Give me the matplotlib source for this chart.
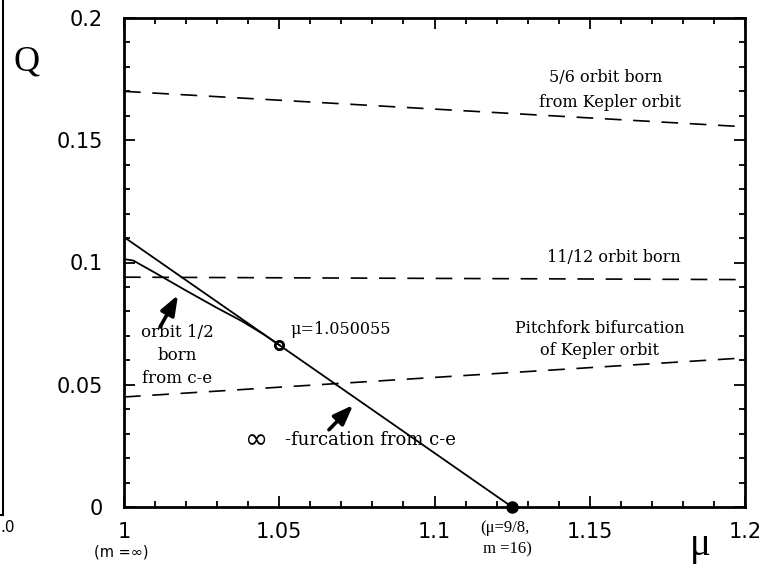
import matplotlib
matplotlib.use("Agg")
from matplotlib import pyplot as plt
from matplotlib.lines import Line2D
from matplotlib.ticker import MultipleLocator

# dashed curves: orbits born from the Kepler orbit
mu_ends = [1.0, 1.2]
q_56 = [0.170, 0.1555]
q_1112 = [0.094, 0.093]
q_pitch = [0.045, 0.061]

# solid curves from c-e
mu_inf = [1.0, 1.050055, 1.125]
q_inf = [0.1104, 0.0662, 0.0]
mu_half = [1.0, 1.003, 1.01, 1.02, 1.03, 1.038, 1.045, 1.050055]
q_half = [0.1014, 0.1008, 0.0958, 0.0885, 0.0814, 0.0760, 0.0706, 0.0662]

# special points
mu_pts = [1.050055, 1.125]
q_pts = [0.0662, 0.0]

xticks = [1.0, 1.05, 1.1, 1.15, 1.2]
xtick_labels = ["1", "1.05", "1.1", "1.15", "1.2"]
yticks = [0.0, 0.05, 0.1, 0.15, 0.2]
ytick_labels = ["0", "0.05", "0.1", "0.15", "0.2"]

W, H = 772, 567
fig = plt.figure(figsize=(W / 100, H / 100), dpi=100)
ax = fig.add_axes([124 / W, 1 - 507 / H, 621 / W, 489 / H])

serif = "DejaVu Serif"

dash = dict(color="k", lw=1.2, dashes=(10, 7))
ax.plot(mu_ends, q_56, **dash)
ax.plot(mu_ends, q_1112, **dash)
ax.plot(mu_ends, q_pitch, **dash)

ax.plot(mu_inf, q_inf, color="k", lw=1.3)
ax.plot(mu_half, q_half, color="k", lw=1.3)

ax.plot(mu_pts[0], q_pts[0], "o", ms=6, mfc="none", mec="k", mew=2, clip_on=False, zorder=5)
ax.plot(mu_pts[1], q_pts[1], "o", ms=8, color="k", clip_on=False, zorder=5)

ax.set_xlim(1.0, 1.2)
ax.set_ylim(0.0, 0.2)
ax.set_xticks(xticks)
ax.set_xticklabels(xtick_labels)
ax.set_yticks(yticks)
ax.set_yticklabels(ytick_labels)
ax.xaxis.set_minor_locator(MultipleLocator(0.01))
ax.yaxis.set_minor_locator(MultipleLocator(0.01))
ax.tick_params(which="both", direction="in", top=True, right=True, width=1.3, colors="k")
ax.tick_params(which="major", length=8)
ax.tick_params(which="minor", length=4)
ax.tick_params(axis="y", which="major", pad=15, labelsize=15)
ax.tick_params(axis="x", which="major", pad=11, labelsize=15)
for s in ax.spines.values():
    s.set_linewidth(2)

# labels inside the plot
fs = 11.5
ax.text(1.1552, 0.1755, "5/6 orbit born", ha="center", va="center", fontsize=fs, family=serif)
ax.text(1.1565, 0.1656, "from Kepler orbit", ha="center", va="center", fontsize=fs, family=serif)
ax.text(1.1578, 0.1022, "11/12 orbit born", ha="center", va="center", fontsize=fs, family=serif)
ax.text(1.1533, 0.0732, "Pitchfork bifurcation", ha="center", va="center", fontsize=fs, family=serif)
ax.text(1.1533, 0.0642, "of Kepler orbit", ha="center", va="center", fontsize=fs, family=serif)
ax.text(1.0535, 0.0724, "μ=1.050055", ha="left", va="center", fontsize=11.5, family=serif)
ax.text(1.0171, 0.0712, "orbit 1/2", ha="center", va="center", fontsize=12, family=serif)
ax.text(1.0171, 0.0618, "born", ha="center", va="center", fontsize=12, family=serif)
ax.text(1.0171, 0.0524, "from c-e", ha="center", va="center", fontsize=12, family=serif)
ax.text(1.0428, 0.0274, "∞", ha="center", va="center", fontsize=20, family="DejaVu Sans")
ax.text(1.0519, 0.0274, "-furcation from c-e", ha="left", va="center", fontsize=13, family=serif)

arrow = dict(arrowstyle="-|>,head_width=0.32,head_length=0.85", color="k", lw=2.6,
             mutation_scale=14, shrinkA=0, shrinkB=0)
ax.annotate("", xy=(1.0174, 0.0867), xytext=(1.0116, 0.0736), arrowprops=arrow)
ax.annotate("", xy=(1.0738, 0.0417), xytext=(1.0660, 0.0316), arrowprops=arrow)

# axis names and notes outside the frame
fig.text(27 / W, 1 - 62 / H, "Q", ha="center", va="center", fontsize=26, family="Liberation Serif")
fig.text(700 / W, 1 - 545 / H, "μ", ha="center", va="center", fontsize=28, family="Liberation Serif")
fig.text(121 / W, 1 - 552 / H, "(m =∞)", ha="center", va="center", fontsize=10.5)
fig.text(480 / W, 1 - 528 / H, "(μ=9/8,", ha="left", va="center", fontsize=12, family="Liberation Serif")
fig.text(483 / W, 1 - 549 / H, "m =16)", ha="left", va="center", fontsize=12, family="Liberation Serif")

# edge of the neighbouring panel in the scan
fig.add_artist(Line2D([3 / W, 3 / W], [1.0, 1 - 515 / H], color="k", lw=1.5))
fig.add_artist(Line2D([0.0, 3 / W], [1 - 515 / H, 1 - 515 / H], color="k", lw=1.5))
fig.text(0.0, 1 - 527 / H, ".0", ha="left", va="center", fontsize=11)

fig.savefig("out.png", dpi=100)
